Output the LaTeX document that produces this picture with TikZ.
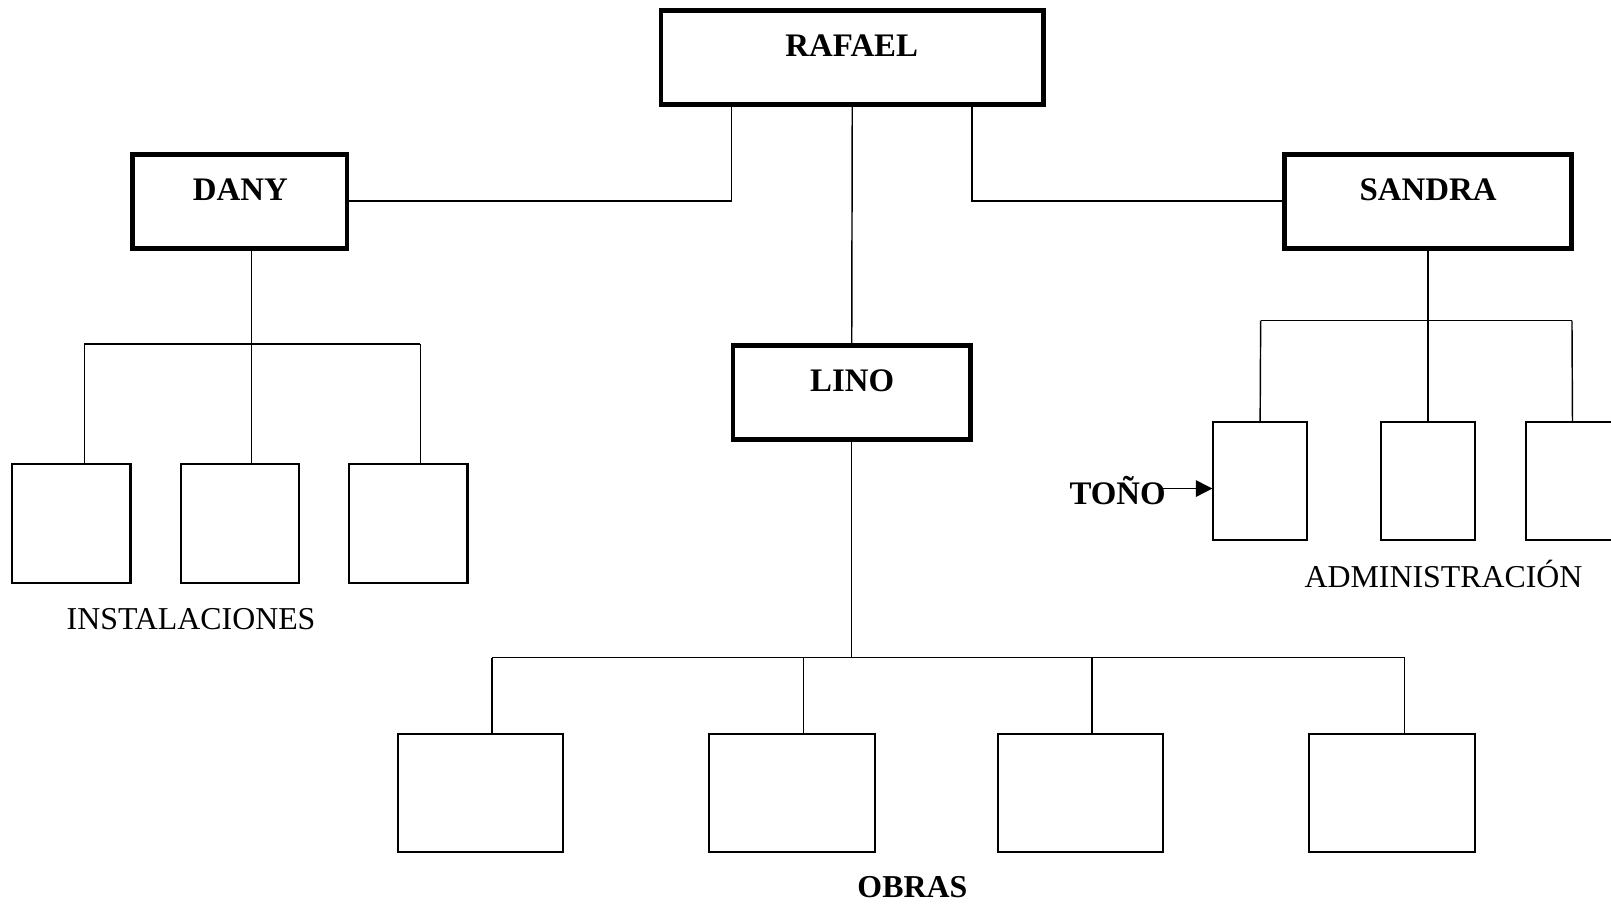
\documentclass[tikz,border=0pt]{standalone}
\usepackage{fontspec}
\setmainfont{Liberation Serif}
\usetikzlibrary{arrows.meta}
\begin{document}
\begin{tikzpicture}[x=0.5pt,y=-0.5pt,
  headbox/.style={draw,line width=2.25pt,rectangle,inner sep=0pt},
  unitbox/.style={draw,line width=1pt,rectangle,inner sep=0pt},
  wire/.style={line width=0.7pt},
  boldlbl/.style={inner sep=0pt,anchor=base,font=\fontsize{16}{19}\selectfont\bfseries},
  arealbl/.style={inner sep=0pt,anchor=base,font=\fontsize{15.5}{19}\selectfont}]
\useasboundingbox (0,0) rectangle (1568,880);
\clip (0,0) rectangle (1568,880);

% managers
\node[headbox,minimum width=186.25pt,minimum height=45.75pt] (rafael) at (829.5,56) {};
\node[headbox,minimum width=104.25pt,minimum height=45.75pt] (dany) at (233.5,196) {};
\node[headbox,minimum width=139.75pt,minimum height=45.75pt] (sandra) at (1390,196) {};
\node[headbox,minimum width=115.75pt,minimum height=45.75pt] (lino) at (829,382) {};

\node[boldlbl] (trafael) at (829,55) {RAFAEL};
\node[boldlbl] (tdany) at (234,195) {DANY};
\node[boldlbl] (tsandra) at (1390,195.5) {SANDRA};
\node[boldlbl] (tlino) at (829.5,381) {LINO};

% installations team
\node[unitbox,minimum width=57.5pt,minimum height=57.5pt] (i1) at (69.5,509.5) {};
\node[unitbox,minimum width=57.5pt,minimum height=57.5pt] (i2) at (233.5,509.5) {};
\node[unitbox,minimum width=57.5pt,minimum height=57.5pt] (i3) at (397.5,509.5) {};
\node[arealbl] (tinst) at (186,612.5) {INSTALACIONES};

% administration team
\node[unitbox,minimum width=45.5pt,minimum height=57.5pt] (a1) at (1226.5,468.5) {};
\node[unitbox,minimum width=45.5pt,minimum height=57.5pt] (a2) at (1390,468.5) {};
\node[unitbox,minimum width=45.5pt,minimum height=57.5pt] (a3) at (1530.5,468.5) {};
\node[arealbl] (tadmin) at (1405,571.5) {ADMINISTRACIÓN};
\node[boldlbl,anchor=base east] (tono) at (1135,491.5) {TOÑO};

% works team
\node[unitbox,minimum width=80.5pt,minimum height=57.5pt] (o1) at (467.5,771.5) {};
\node[unitbox,minimum width=80.5pt,minimum height=57.5pt] (o2) at (771,771.5) {};
\node[unitbox,minimum width=80.5pt,minimum height=57.5pt] (o3) at (1051.5,771.5) {};
\node[unitbox,minimum width=80.5pt,minimum height=57.5pt] (o4) at (1355,771.5) {};
\node[boldlbl,font=\fontsize{15.5}{19}\selectfont\bfseries] (tobras) at (888,873.5) {OBRAS};

% junction points
\coordinate (rl) at (712,195.5);
\coordinate (rr) at (946,195.5);
\coordinate (dj) at (245,335);
\coordinate (di1) at (82,335);
\coordinate (di3) at (409,335);
\coordinate (sj) at (1390,312);
\coordinate (sa1) at (1227,312);
\coordinate (sa3) at (1530,312);
\coordinate (lj) at (829,640);
\coordinate (lo1) at (479,640);
\coordinate (lo2) at (782,640);
\coordinate (lo3) at (1063,640);
\coordinate (lo4) at (1367,640);
\coordinate (tonoend) at (1132,475.5);

% connectors from the top
\draw[wire] (rl |- rafael.south) -- (rl) -- (rl -| dany.east);
\draw[wire] (rr |- rafael.south) -- (rr) -- (rr -| sandra.west);
\draw[wire] (rafael.south) -- (lino.north);

% installations branch
\draw[wire] (dj |- dany.south) -- (dj);
\draw[wire] (di1) -- (di3);
\draw[wire] (di1) -- (di1 |- i1.north);
\draw[wire] (dj) -- (dj |- i2.north);
\draw[wire] (di3) -- (di3 |- i3.north);

% administration branch
\draw[wire] (sandra.south) -- (sj);
\draw[wire] (sa1) -- (sa3);
\draw[wire] (sa1) -- (a1.north);
\draw[wire] (sj) -- (a2.north);
\draw[wire] (sa3) -- (a3.north);
\draw[wire,-{Triangle[length=8pt,width=8pt]}] (tonoend) -- (tonoend -| a1.west);

% works branch
\draw[wire] (lino.south) -- (lj);
\draw[wire] (lo1) -- (lo4);
\draw[wire] (lo1) -- (lo1 |- o1.north);
\draw[wire] (lo2) -- (lo2 |- o2.north);
\draw[wire] (lo3) -- (lo3 |- o3.north);
\draw[wire] (lo4) -- (lo4 |- o4.north);
\end{tikzpicture}
\end{document}
